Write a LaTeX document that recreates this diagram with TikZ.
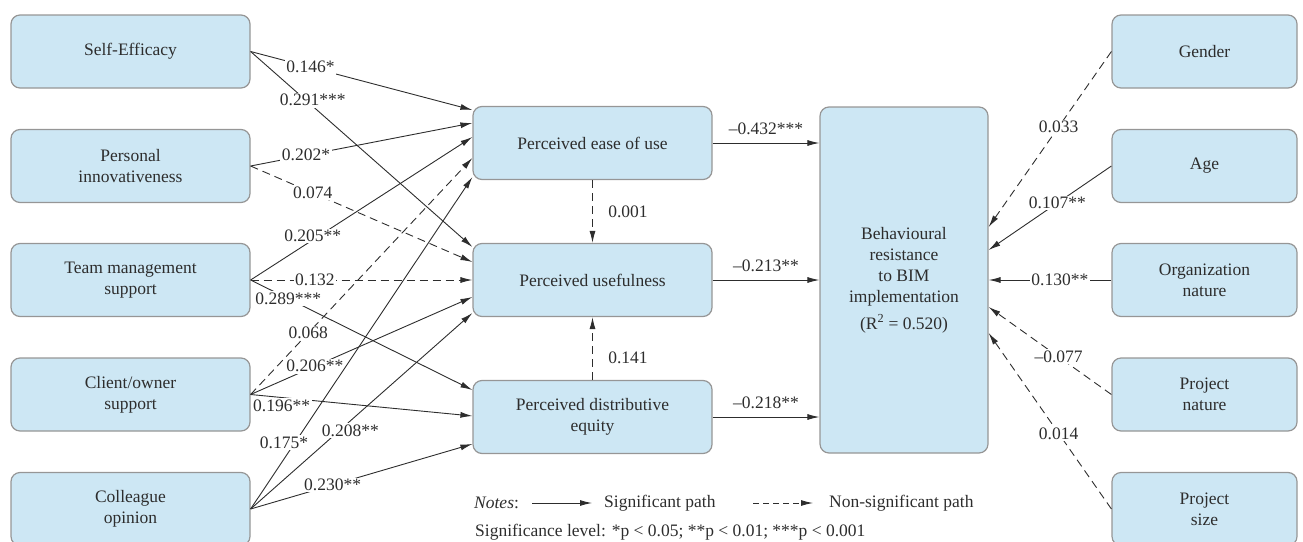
\documentclass[tikz,border=0pt]{standalone}
\usepackage{fontspec}
\setmainfont{Liberation Serif}
\usetikzlibrary{arrows.meta}
\definecolor{boxblue}{RGB}{205,231,244}
\definecolor{boxline}{RGB}{150,150,150}
\definecolor{pathgray}{RGB}{45,45,45}
\tikzset{
  box/.style={draw=boxline, line width=1.2pt, fill=boxblue, rounded corners=9pt,
    minimum width=239pt, minimum height=73pt, align=center, inner sep=0pt},
  sig/.style={draw=pathgray, line width=0.9pt, -{Latex[length=12pt,width=6pt]}},
  nonsig/.style={sig, dash pattern=on 8pt off 5pt},
  lbl/.style={fill=white, inner sep=1.5pt},
}
\begin{document}
\begin{tikzpicture}[x=1pt,y=-1pt,font=\fontsize{17.5}{21}\selectfont,text=pathgray]
\useasboundingbox (0,0) rectangle (1303,541);
%\draw[step=50,very thin,color=gray] (0,0) grid (1303,541);
% antecedents
\node[box] (self) at (130.5,51.5) {Self-Efficacy};
\node[box] (innov) at (130.5,166) {Personal\\innovativeness};
\node[box] (team) at (130.5,280) {Team management\\support};
\node[box] (client) at (130.5,394.5) {Client/owner\\support};
\node[box] (coll) at (130.5,509) {Colleague\\opinion};
% mediators
\node[box] (ease) at (592.5,143) {Perceived ease of use};
\node[box] (useful) at (592.5,280) {Perceived usefulness};
\node[box] (equity) at (592.5,417) {Perceived distributive\\equity};
\node[box, minimum width=168pt, minimum height=346pt] (bim) at (904,280)
  {Behavioural\\resistance\\to BIM\\implementation\\[6pt](R\textsuperscript{2} = 0.520)};
% controls
\node[box, minimum width=185pt] (gender) at (1204.5,51.5) {Gender};
\node[box, minimum width=185pt] (age) at (1204.5,166) {Age};
\node[box, minimum width=185pt] (org) at (1204.5,280) {Organization\\nature};
\node[box, minimum width=185pt] (pnat) at (1204.5,394.5) {Project\\nature};
\node[box, minimum width=185pt] (psize) at (1204.5,509) {Project\\size};
% paths into the mediators
\draw[sig] (self.east) -- ([yshift=33pt]ease.west) node[lbl,pos=.27] (l146) {0.146*};
\draw[sig] (self.east) -- ([yshift=33pt]useful.west) node[lbl,pos=.28,yshift=6pt] (l291) {0.291***};
\draw[sig] (innov.east) -- ([yshift=20pt]ease.west) node[lbl,pos=.25] (l202) {0.202*};
\draw[nonsig] (innov.east) -- ([yshift=18pt]useful.west) node[lbl,pos=.28] (l074) {0.074};
\draw[sig] (team.east) -- ([yshift=6pt]ease.west) node[lbl,pos=.28,yshift=4pt] (l205) {0.205**};
\draw[nonsig] (team.east) -- (useful.west) node[lbl,pos=.29] (l132) {0.132};
\draw[sig] (team.east) -- ([yshift=27pt]equity.west) node[lbl,pos=.17] (l289) {0.289***};
\draw[nonsig] (client.east) -- ([yshift=-15pt]ease.west) node[lbl,pos=.26] (l068) {0.068};
\draw[sig] (client.east) -- ([yshift=-17pt]useful.west) node[lbl,pos=.29] (l206) {0.206**};
\draw[sig] (client.east) -- ([yshift=1pt]equity.west) node[lbl,pos=.14,yshift=-8pt] (l196) {0.196**};
\draw[sig] (coll.east) -- ([yshift=-34pt]ease.west) node[lbl,pos=.2,xshift=-11pt] (l175) {0.175*};
\draw[sig] (coll.east) -- ([yshift=-33pt]useful.west) node[lbl,pos=.45,yshift=-10pt] (l208) {0.208**};
\draw[sig] (coll.east) -- ([yshift=-27pt]equity.west) node[lbl,pos=.37] (l230) {0.230**};
% between mediators
\draw[nonsig] (ease) -- (useful) node[midway,right=12pt] (l001) {0.001};
\draw[nonsig] (equity) -- (useful) node[pos=.35,right=12pt] (l141) {0.141};
% into the outcome
\draw[sig] (ease) -- (bim.west |- ease) node[midway,above=4pt] (l432) {--0.432***};
\draw[sig] (useful) -- (bim.west |- useful) node[midway,above=4pt] (l213) {--0.213**};
\draw[sig] (equity) -- (bim.west |- equity) node[midway,above=4pt] (l218) {--0.218**};
\draw[nonsig] (gender.west) -- ([yshift=53pt]bim.east) node[lbl,pos=.43] (l033) {0.033};
\draw[sig] (age.west) -- ([yshift=30pt]bim.east) node[lbl,pos=.44] (l107) {0.107**};
\draw[sig] (org.west) -- (bim.east) node[lbl,pos=.42] (l130) {0.130**};
\draw[nonsig] (pnat.west) -- ([yshift=-27pt]bim.east) node[lbl,pos=.43] (l077) {--0.077};
\draw[nonsig] (psize.west) -- ([yshift=-53pt]bim.east) node[lbl,pos=.43] (l014) {0.014};
% legend
\node[anchor=west,inner sep=0pt] (notes) at (474,503) {\textit{Notes}:};
\coordinate (sa) at (532,503);
\coordinate (sb) at (592,503);
\draw[sig] (sa) -- (sb);
\node[anchor=west,inner sep=0pt] (sigtxt) at (604,503) {Significant path};
\coordinate (na) at (753,503);
\coordinate (nb) at (813,503);
\draw[sig, dash pattern=on 6pt off 4pt] (na) -- (nb);
\node[anchor=west,inner sep=0pt] (nstxt) at (829,503) {Non-significant path};
\node[anchor=west,inner sep=0pt] (level) at (475,532) {Significance level: *p < 0.05; **p < 0.01; ***p < 0.001};
\end{tikzpicture}
\end{document}
